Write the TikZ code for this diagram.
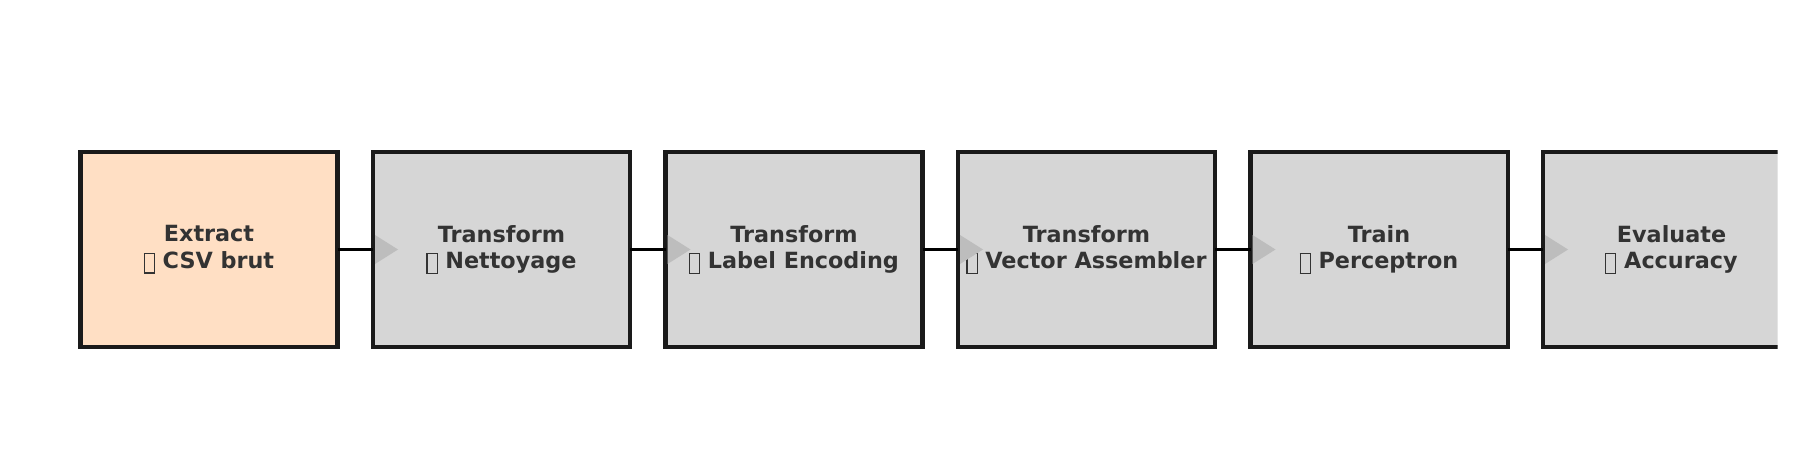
\documentclass[tikz,border=0pt]{standalone}
\usepackage{fontspec}
\setmainfont{DejaVu Sans}
\usetikzlibrary{positioning}
\definecolor{peach}{HTML}{FFDFC4}
\definecolor{stagegray}{HTML}{D6D6D6}
\definecolor{edgegray}{HTML}{1A1A1A}
\definecolor{textgray}{HTML}{333333}
\definecolor{tipgray}{HTML}{BDBDBD}
\newcommand{\tofu}{\raisebox{-0.08cm}{\setlength{\fboxsep}{0pt}\setlength{\fboxrule}{0.6pt}\fbox{\rule{0pt}{0.37cm}\hspace{0.18cm}}}}
\tikzset{
    stage/.style={draw=edgegray, line width=2.3pt, fill=stagegray,
        minimum width=5.14cm, minimum height=3.89cm, inner sep=0pt, outer sep=0pt,
        align=center, text=textgray, font=\fontsize{12.7}{15.2}\selectfont\bfseries},
    source/.style={stage, fill=peach},
    link/.style={line width=1.5pt, black},
    tip/.style={fill=tipgray}
}
\begin{document}
\begin{tikzpicture}
    \useasboundingbox (0,0) rectangle (36,9);
    \clip (0,0) rectangle (35.55,9);
    %% stages
    \node[source] (extract) at (4.18,4.01) {Extract\\\tofu{} CSV brut};
    \node[stage, right=0.71cm of extract] (clean) {Transform\\\tofu{} Nettoyage};
    \node[stage, right=0.71cm of clean] (encode) {Transform\\\tofu{} Label Encoding};
    \node[stage, right=0.71cm of encode] (assemble) {Transform\\\tofu{} Vector Assembler};
    \node[stage, right=0.71cm of assemble] (train) {Train\\\tofu{} Perceptron};
    \node[stage, right=0.71cm of train] (evaluate) {Evaluate\\\tofu{} Accuracy};
    %% links
    \foreach \a/\b in {extract/clean,clean/encode,encode/assemble,assemble/train,train/evaluate} {
        \draw[link] (\a.east) -- (\b.west);
        \fill[tip] ([xshift=0.04cm]\b.west) ++(0,0.29) -- ++(0.46,-0.29) -- ++(-0.46,-0.29) -- cycle;
    }
\end{tikzpicture}
\end{document}
